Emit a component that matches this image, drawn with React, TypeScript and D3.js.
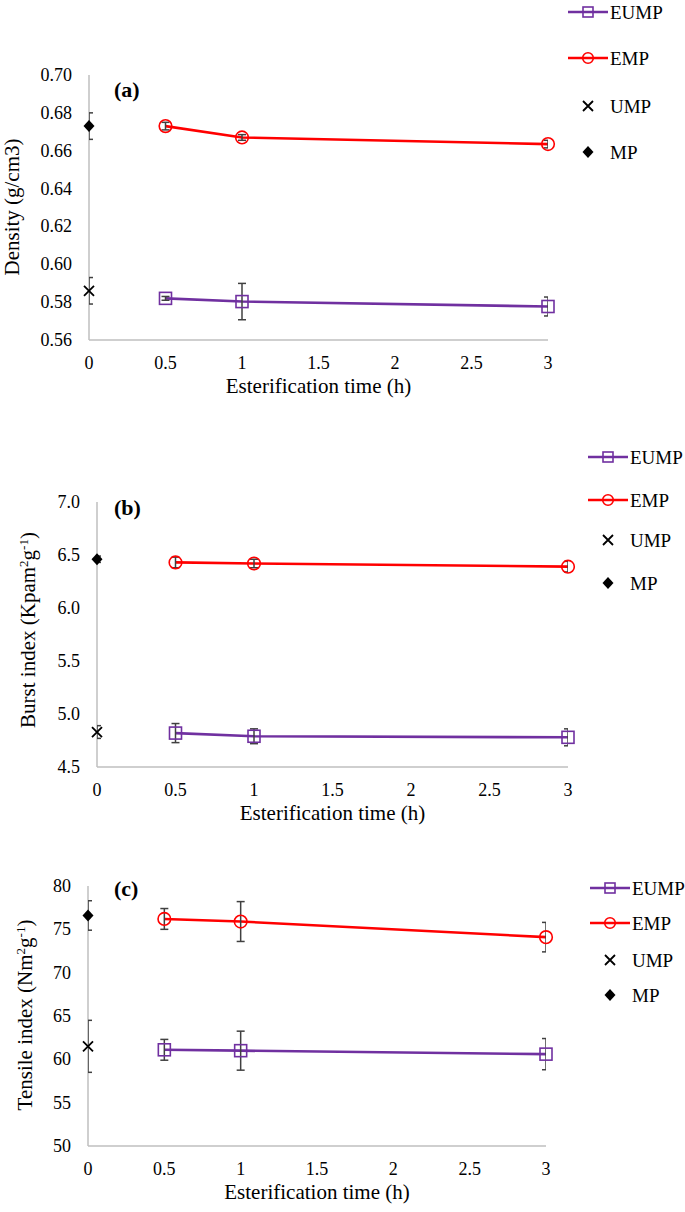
import React from 'react';
import * as d3 from 'd3';

// ---------- data ----------
const esterTimes = [0.5, 1, 3];
const controlTime = 0;
const xTickValues = [0, 0.5, 1, 1.5, 2, 2.5, 3];
const seriesNames = ['EUMP', 'EMP', 'UMP', 'MP'];

// (a) Density (g/cm3)
const densityEUMP = [0.582, 0.5803, 0.5777];
const densityEUMPErr = [0.001, 0.0096, 0.005];
const densityEMP = [0.673, 0.667, 0.6635];
const densityEMPErr = [0.002, 0.0015, 0.002];
const densityUMP = [0.586];
const densityUMPErr = [0.007];
const densityMP = [0.673];
const densityMPErr = [0.007];
const densityTicks = [0.56, 0.58, 0.6, 0.62, 0.64, 0.66, 0.68, 0.7];

// (b) Burst index
const burstEUMP = [4.82, 4.79, 4.78];
const burstEUMPErr = [0.09, 0.07, 0.08];
const burstEMP = [6.43, 6.42, 6.39];
const burstEMPErr = [0.05, 0.04, 0.05];
const burstUMP = [4.83];
const burstUMPErr = [0.06];
const burstMP = [6.46];
const burstMPErr = [0.03];
const burstTicks = [4.5, 5.0, 5.5, 6.0, 6.5, 7.0];

// (c) Tensile index
const tensileEUMP = [61.1, 61.0, 60.6];
const tensileEUMPErr = [1.2, 2.25, 1.8];
const tensileEMP = [76.2, 75.9, 74.1];
const tensileEMPErr = [1.2, 2.3, 1.7];
const tensileUMP = [61.5];
const tensileUMPErr = [3.0];
const tensileMP = [76.6];
const tensileMPErr = [1.7];
const tensileTicks = [50, 55, 60, 65, 70, 75, 80];

// ---------- style ----------
const FONT = '"Liberation Serif", "Times New Roman", serif';
const PURPLE = '#7030A0';
const RED = '#FF0000';
const ERR = '#404040';
const AXIS = '#BFBFBF';

type PanelDef = {
  id: string;
  label: string;
  yTitle: React.ReactNode;
  ticks: number[];
  fmt: (v: number) => string;
  eump: number[]; eumpErr: number[];
  emp: number[]; empErr: number[];
  ump: number[]; umpErr: number[];
  mp: number[]; mpErr: number[];
  layout: {
    x0: number; x1: number; yTop: number; yBot: number;
    legendX: number; legendRows: number[];
    titleX: number; titleY: number;
    labelX: number; labelY: number;
  };
};

const sup = (s: string) => (
  <tspan baselineShift="35%" fontSize="13">{s}</tspan>
);

const panels: PanelDef[] = [
  {
    id: 'a', label: '(a)', yTitle: <>Density (g/cm3)</>,
    ticks: densityTicks, fmt: d3.format('.2f'),
    eump: densityEUMP, eumpErr: densityEUMPErr,
    emp: densityEMP, empErr: densityEMPErr,
    ump: densityUMP, umpErr: densityUMPErr,
    mp: densityMP, mpErr: densityMPErr,
    layout: { x0: 89, x1: 548, yTop: 75, yBot: 340, legendX: 568, legendRows: [12, 58, 106, 152], titleX: 12, titleY: 207, labelX: 114, labelY: 97 },
  },
  {
    id: 'b', label: '(b)', yTitle: <>Burst index (Kpam{sup('2')}g{sup('-1')})</>,
    ticks: burstTicks, fmt: d3.format('.1f'),
    eump: burstEUMP, eumpErr: burstEUMPErr,
    emp: burstEMP, empErr: burstEMPErr,
    ump: burstUMP, umpErr: burstUMPErr,
    mp: burstMP, mpErr: burstMPErr,
    layout: { x0: 97, x1: 568, yTop: 502, yBot: 767, legendX: 588, legendRows: [457, 500, 540, 583], titleX: 28, titleY: 630, labelX: 114, labelY: 515 },
  },
  {
    id: 'c', label: '(c)', yTitle: <>Tensile index (Nm{sup('2')}g{sup('-1')})</>,
    ticks: tensileTicks, fmt: d3.format('d'),
    eump: tensileEUMP, eumpErr: tensileEUMPErr,
    emp: tensileEMP, empErr: tensileEMPErr,
    ump: tensileUMP, umpErr: tensileUMPErr,
    mp: tensileMP, mpErr: tensileMPErr,
    layout: { x0: 88, x1: 546, yTop: 886, yBot: 1146, legendX: 590, legendRows: [888, 923, 960, 995], titleX: 25, titleY: 1015, labelX: 114, labelY: 896 },
  },
];

const Square = ({ x, y, s, color }: { x: number; y: number; s: number; color: string }) => (
  <rect x={x - s / 2} y={y - s / 2} width={s} height={s} fill="none" stroke={color} strokeWidth={1.6} />
);
const Circle = ({ x, y, r, color }: { x: number; y: number; r: number; color: string }) => (
  <circle cx={x} cy={y} r={r} fill="none" stroke={color} strokeWidth={1.6} />
);
const Cross = ({ x, y, s }: { x: number; y: number; s: number }) => (
  <path d={`M${x - s / 2},${y - s / 2}L${x + s / 2},${y + s / 2}M${x - s / 2},${y + s / 2}L${x + s / 2},${y - s / 2}`} stroke="#000" strokeWidth={1.8} fill="none" />
);
const Diamond = ({ x, y, s }: { x: number; y: number; s: number }) => (
  <path d={`M${x},${y - s / 2}L${x + s / 2 - 0.5},${y}L${x},${y + s / 2}L${x - s / 2 + 0.5},${y}Z`} fill="#000" />
);

function Panel({ p }: { p: PanelDef }) {
  const L = p.layout;
  const x = d3.scaleLinear().domain([0, 3]).range([L.x0, L.x1]);
  const y = d3.scaleLinear().domain([p.ticks[0], p.ticks[p.ticks.length - 1]]).range([L.yBot, L.yTop]);
  const line = d3.line<number>().x((_, i) => x(esterTimes[i])).y((d) => y(d));
  const clipId = `clip-${p.id}`;
  const cap = 4;

  const errBar = (xv: number, v: number, e: number, key: string) => {
    const cx = x(xv);
    const y1 = y(v + e), y2 = y(v - e);
    return (
      <g key={key} stroke={ERR} strokeWidth={1.5}>
        <line x1={cx} x2={cx} y1={y1} y2={y2} />
        <line x1={cx - cap} x2={cx + cap} y1={y1} y2={y1} />
        <line x1={cx - cap} x2={cx + cap} y1={y2} y2={y2} />
      </g>
    );
  };

  const lx = L.legendX;
  const rows = L.legendRows;

  return (
    <g>
      <defs>
        <clipPath id={clipId}>
          <rect x={L.x0} y={L.yTop - 60} width={L.x1 - L.x0} height={L.yBot - L.yTop + 120} />
        </clipPath>
      </defs>
      {/* axes */}
      <line x1={L.x0} x2={L.x0} y1={L.yTop} y2={L.yBot} stroke={AXIS} strokeWidth={1.5} />
      <line x1={L.x0} x2={L.x1} y1={L.yBot} y2={L.yBot} stroke={AXIS} strokeWidth={1.5} />
      {p.ticks.map((t) => (
        <text key={t} x={L.x0 - 17} y={y(t)} textAnchor="end" dominantBaseline="central" fontSize={18} fontFamily={FONT}>{p.fmt(t)}</text>
      ))}
      {xTickValues.map((t) => (
        <text key={t} x={x(t)} y={L.yBot + 23} textAnchor="middle" dominantBaseline="central" fontSize={18} fontFamily={FONT}>{String(t)}</text>
      ))}
      <text x={(L.x0 + L.x1) / 2} y={L.yBot + 46} textAnchor="middle" dominantBaseline="central" fontSize={21} fontFamily={FONT}>Esterification time (h)</text>
      <text transform={`translate(${L.titleX},${L.titleY}) rotate(-90)`} textAnchor="middle" dominantBaseline="central" fontSize={21} fontFamily={FONT}>{p.yTitle}</text>
      <text x={L.labelX} y={L.labelY} fontSize={22} fontWeight="bold" fontFamily={FONT}>{p.label}</text>

      {/* lines */}
      <path d={line(p.eump) || ''} fill="none" stroke={PURPLE} strokeWidth={2.6} />
      <path d={line(p.emp) || ''} fill="none" stroke={RED} strokeWidth={2.6} />

      {/* error bars */}
      <g clipPath={`url(#${clipId})`}>
        {p.eump.map((v, i) => errBar(esterTimes[i], v, p.eumpErr[i], `eu${i}`))}
        {p.emp.map((v, i) => errBar(esterTimes[i], v, p.empErr[i], `em${i}`))}
        {p.ump.map((v, i) => errBar(controlTime, v, p.umpErr[i], `u${i}`))}
        {p.mp.map((v, i) => errBar(controlTime, v, p.mpErr[i], `m${i}`))}
      </g>

      {/* markers */}
      {p.eump.map((v, i) => <Square key={`s${i}`} x={x(esterTimes[i])} y={y(v)} s={12} color={PURPLE} />)}
      {p.emp.map((v, i) => <Circle key={`c${i}`} x={x(esterTimes[i])} y={y(v)} r={6.3} color={RED} />)}
      {p.ump.map((v, i) => <Cross key={`x${i}`} x={x(controlTime)} y={y(v)} s={10} />)}
      {p.mp.map((v, i) => <Diamond key={`d${i}`} x={x(controlTime)} y={y(v)} s={12} />)}

      {/* legend */}
      <g fontFamily={FONT} fontSize={19}>
        <line x1={lx} x2={lx + 40} y1={rows[0]} y2={rows[0]} stroke={PURPLE} strokeWidth={2.6} />
        <Square x={lx + 20} y={rows[0]} s={10} color={PURPLE} />
        <text x={lx + 42} y={rows[0]} dominantBaseline="central">{seriesNames[0]}</text>
        <line x1={lx} x2={lx + 40} y1={rows[1]} y2={rows[1]} stroke={RED} strokeWidth={2.6} />
        <Circle x={lx + 20} y={rows[1]} r={5.3} color={RED} />
        <text x={lx + 42} y={rows[1]} dominantBaseline="central">{seriesNames[1]}</text>
        <Cross x={lx + 20} y={rows[2]} s={10} />
        <text x={lx + 42} y={rows[2]} dominantBaseline="central">{seriesNames[2]}</text>
        <Diamond x={lx + 20} y={rows[3]} s={12} />
        <text x={lx + 42} y={rows[3]} dominantBaseline="central">{seriesNames[3]}</text>
      </g>
    </g>
  );
}

export default function App() {
  return (
    <svg width={685} height={1212} viewBox="0 0 685 1212" style={{ position: 'absolute', left: 0, top: 0, background: '#fff' }}>
      <rect x={0} y={0} width={685} height={1212} fill="#fff" />
      {panels.map((p) => <Panel key={p.id} p={p} />)}
    </svg>
  );
}
